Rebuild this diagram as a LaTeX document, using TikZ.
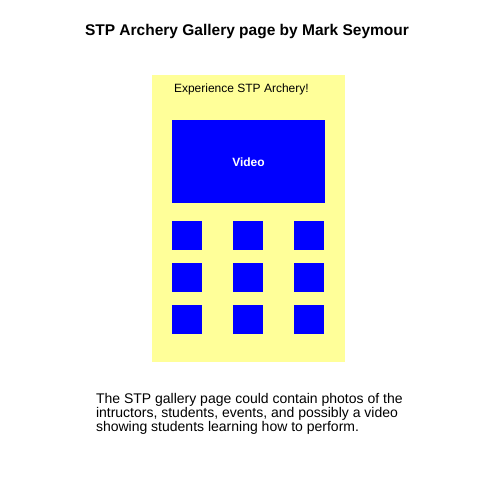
\documentclass[tikz,border=0pt]{standalone}
\usepackage{fontspec}
\setmainfont{Liberation Sans}
\definecolor{padyellow}{HTML}{FFFF99}
\definecolor{tileblue}{HTML}{0000FF}
\tikzset{
  panel/.style={fill=padyellow, draw=none},
  tile/.style={fill=tileblue, draw=none},
  plain/.style={inner sep=0pt, outer sep=0pt},
}
\begin{document}
\begin{tikzpicture}[x=1pt, y=-1pt]
\useasboundingbox[fill=white] (0,0) rectangle (500,500);
\node[plain, anchor=base, font=\fontsize{15.5}{18}\selectfont\bfseries] (title) at (247,36) {STP Archery Gallery page by Mark Seymour};
\path[panel] (152,75) rectangle (345,361.5) coordinate (panelcorner);
\node[plain, anchor=base west, font=\fontsize{12}{14}\selectfont] (headline) at (174,93) {Experience STP Archery!};
\path[tile] (172,120) rectangle (325,202.5);
\node[plain, text=white, font=\fontsize{12}{14}\selectfont\bfseries] (video) at (248.5,162) {Video};
\foreach \cx in {172,233,294}{
  \foreach \cy in {221,263,305}{
    \path[tile] (\cx,\cy) rectangle ++(30,29);
  }
}
\node[plain, anchor=base west, align=left, font=\fontsize{14}{14}\selectfont] (desc) at (96,431.5) {The STP gallery page could contain photos of the\\intructors, students, events, and possibly a video\\showing students learning how to perform.};
\end{tikzpicture}
\end{document}
